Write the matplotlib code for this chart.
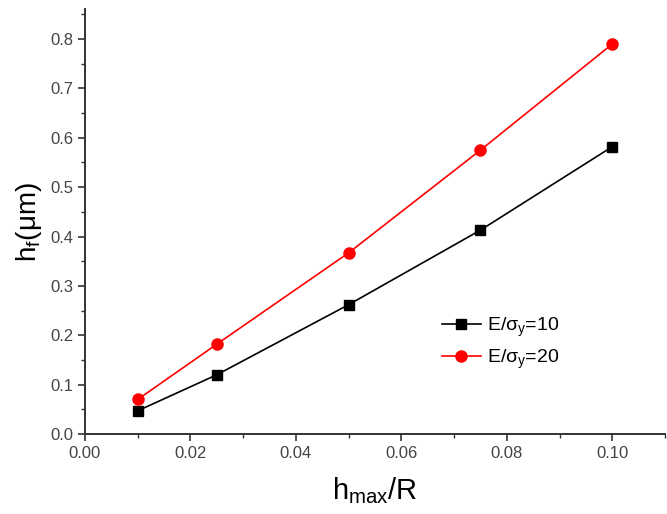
import numpy as np
import matplotlib
matplotlib.use("Agg")
import matplotlib.pyplot as plt
from matplotlib.ticker import MultipleLocator, FormatStrFormatter

plt.rcParams['font.family'] = ['Liberation Sans', 'DejaVu Sans']
plt.rcParams['mathtext.fontset'] = 'custom'
plt.rcParams['mathtext.rm'] = 'Liberation Sans'
plt.rcParams['mathtext.it'] = 'Liberation Sans'

# data
h_ratio = [0.01, 0.025, 0.05, 0.075, 0.10]
hf_e10 = [0.047, 0.120, 0.262, 0.413, 0.582]
hf_e20 = [0.070, 0.182, 0.367, 0.575, 0.790]

fig = plt.figure(figsize=(6.67, 5.14), dpi=100)
ax = fig.add_axes([0.1274, 0.1556, 0.8696, 0.826])

ax.plot(h_ratio, hf_e10, 'k-', marker='s', markersize=7, lw=1.2,
        label=r'E/$\mathrm{\sigma_y}$=10')
ax.plot(h_ratio, hf_e20, 'r-', marker='o', markersize=8, lw=1.2,
        label=r'E/$\mathrm{\sigma_y}$=20')

ax.set_xlim(0, 0.11)
ax.set_ylim(0, 0.86)
ax.xaxis.set_major_locator(MultipleLocator(0.02))
ax.xaxis.set_minor_locator(MultipleLocator(0.01))
ax.yaxis.set_major_locator(MultipleLocator(0.1))
ax.yaxis.set_minor_locator(MultipleLocator(0.05))
ax.xaxis.set_major_formatter(FormatStrFormatter('%.2f'))
ax.yaxis.set_major_formatter(FormatStrFormatter('%.1f'))

ax.spines['top'].set_visible(False)
ax.spines['right'].set_visible(False)
for s in ('left', 'bottom'):
    ax.spines[s].set_linewidth(1.4)
    ax.spines[s].set_color('#333333')
ax.tick_params(which='major', direction='out', length=5, width=1.2,
               labelsize=12, labelcolor='#444444', color='#333333')
ax.tick_params(which='minor', direction='out', length=3, width=1.0, color='#333333')

ax.set_xlabel(r'h$\mathrm{_{max}}$/R', fontsize=21, labelpad=10)
ax.set_ylabel(r'h$\mathrm{_f}$($\mathrm{\mu}$m)', fontsize=20, labelpad=4)

ax.legend(loc='upper left', bbox_to_anchor=(0.585, 0.32), frameon=False,
          fontsize=14, handlelength=2.0, handletextpad=0.3, labelspacing=0.45)

fig.savefig('out.png', dpi=100)
